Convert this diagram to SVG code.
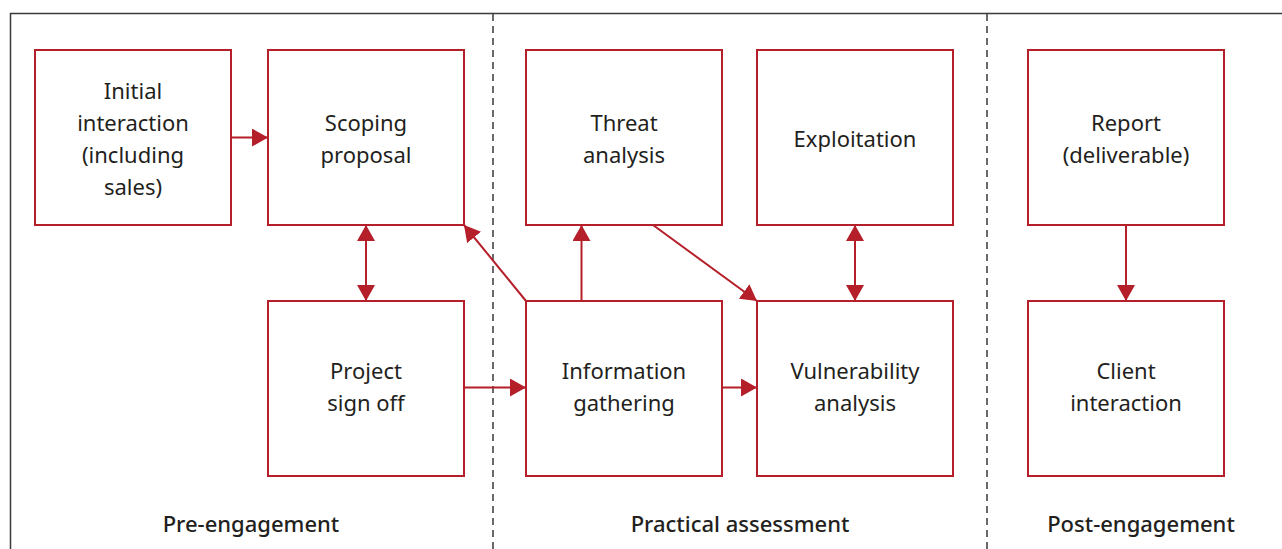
<svg xmlns="http://www.w3.org/2000/svg" width="1282" height="549" viewBox="0 0 1282 549">
  <style>
    .box { fill: #ffffff; stroke: #b51f2a; stroke-width: 2; }
    .lbl { font-family: "Noto Sans", "Open Sans", "DejaVu Sans", sans-serif; font-size: 22px; fill: #231f20; text-anchor: middle; }
    .phase { font-family: "Noto Sans", "Open Sans", "DejaVu Sans", sans-serif; font-size: 22px; font-weight: 500; fill: #231f20; text-anchor: middle; }
    .frame { fill: none; stroke: #3a3a3a; stroke-width: 1.5; }
    .divider { fill: none; stroke: #3a3a3a; stroke-width: 1.5; stroke-dasharray: 7 5; }
    .link { fill: none; stroke: #b51f2a; stroke-width: 2; }
  </style>
  <defs>
    <marker id="tip" viewBox="0 0 16 18" refX="16" refY="9" markerWidth="16" markerHeight="18" markerUnits="userSpaceOnUse" orient="auto-start-reverse">
      <path d="M0,0 L16,9 L0,18 Z" fill="#b51f2a"/>
    </marker>
  </defs>

  <rect width="1282" height="549" fill="#ffffff"/>

  <!-- outer frame and phase dividers -->
  <path class="frame" d="M10.5,549 V13.5 H1282"/>
  <line class="divider" x1="493" y1="14" x2="493" y2="549"/>
  <line class="divider" x1="987" y1="14" x2="987" y2="549"/>

  <!-- connectors -->
  <g id="connectors">
    <line class="link" x1="231" y1="137.5" x2="268" y2="137.5" marker-end="url(#tip)"/>
    <line class="link" x1="366" y1="225" x2="366" y2="301" marker-start="url(#tip)" marker-end="url(#tip)"/>
    <line class="link" x1="464" y1="387.5" x2="526" y2="387.5" marker-end="url(#tip)"/>
    <line class="link" x1="722" y1="387.5" x2="757" y2="387.5" marker-end="url(#tip)"/>
    <line class="link" x1="581.5" y1="301" x2="581.5" y2="225" marker-end="url(#tip)"/>
    <line class="link" x1="526" y1="301" x2="464" y2="225" marker-end="url(#tip)"/>
    <line class="link" x1="653" y1="225" x2="757" y2="301" marker-end="url(#tip)"/>
    <line class="link" x1="855" y1="225" x2="855" y2="301" marker-start="url(#tip)" marker-end="url(#tip)"/>
    <line class="link" x1="1126" y1="225" x2="1126" y2="301" marker-end="url(#tip)"/>
  </g>

  <!-- pre-engagement -->
  <g id="initial-interaction">
    <rect class="box" x="35" y="50" width="196" height="175"/>
    <text class="lbl" x="133" y="99">Initial</text>
    <text class="lbl" x="133" y="131">interaction</text>
    <text class="lbl" x="133" y="163">(including</text>
    <text class="lbl" x="133" y="195">sales)</text>
  </g>
  <g id="scoping-proposal">
    <rect class="box" x="268" y="50" width="196" height="175"/>
    <text class="lbl" x="366" y="131">Scoping</text>
    <text class="lbl" x="366" y="163">proposal</text>
  </g>
  <g id="project-sign-off">
    <rect class="box" x="268" y="301" width="196" height="175"/>
    <text class="lbl" x="366" y="379">Project</text>
    <text class="lbl" x="366" y="411">sign off</text>
  </g>

  <!-- practical assessment -->
  <g id="threat-analysis">
    <rect class="box" x="526" y="50" width="196" height="175"/>
    <text class="lbl" x="624" y="131">Threat</text>
    <text class="lbl" x="624" y="163">analysis</text>
  </g>
  <g id="exploitation">
    <rect class="box" x="757" y="50" width="196" height="175"/>
    <text class="lbl" x="855" y="147">Exploitation</text>
  </g>
  <g id="information-gathering">
    <rect class="box" x="526" y="301" width="196" height="175"/>
    <text class="lbl" x="624" y="379">Information</text>
    <text class="lbl" x="624" y="411">gathering</text>
  </g>
  <g id="vulnerability-analysis">
    <rect class="box" x="757" y="301" width="196" height="175"/>
    <text class="lbl" x="855" y="379">Vulnerability</text>
    <text class="lbl" x="855" y="411">analysis</text>
  </g>

  <!-- post-engagement -->
  <g id="report">
    <rect class="box" x="1028" y="50" width="196" height="175"/>
    <text class="lbl" x="1126" y="131">Report</text>
    <text class="lbl" x="1126" y="163">(deliverable)</text>
  </g>
  <g id="client-interaction">
    <rect class="box" x="1028" y="301" width="196" height="175"/>
    <text class="lbl" x="1126" y="379">Client</text>
    <text class="lbl" x="1126" y="411">interaction</text>
  </g>

  <!-- phase captions -->
  <text class="phase" x="251" y="532">Pre-engagement</text>
  <text class="phase" x="740" y="532">Practical assessment</text>
  <text class="phase" x="1141" y="532">Post-engagement</text>
</svg>
